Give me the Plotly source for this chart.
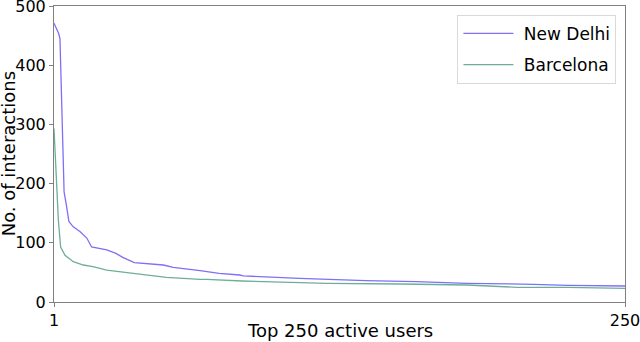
import plotly.graph_objects as go

# user rank (1 = most active) and number of interactions
delhi_rank = [1, 3, 3.6, 4.4, 4.8, 5.4, 6.5, 7.5, 9.4, 12.3, 15.3, 17.4, 24, 28, 31, 36,
              48.7, 53, 64.7, 73, 82, 83.5, 108, 137, 159, 181, 210, 225, 250]
delhi_vals = [471, 454, 445, 313, 251, 186, 161, 136, 127, 119, 108, 93, 88, 82, 75.5, 66.4,
              62.5, 58.6, 53, 48.4, 45.6, 44, 40, 36, 34.3, 31.6, 29.9, 28.2, 27]

barca_rank = [1, 1.9, 2.9, 3.9, 5.8, 9.4, 13.8, 18, 24, 35.6, 50, 64.7, 67.6, 83, 120,
              152, 181, 203, 225, 250]
barca_vals = [293, 217, 138, 93, 79, 68, 62.5, 59.6, 54, 48.4, 41.7, 38.3, 38.3, 35.5, 31.6,
              30.4, 28.7, 24.8, 24.8, 23]

fig = go.Figure()
fig.add_trace(go.Scatter(x=delhi_rank, y=delhi_vals, mode="lines", name="\u00a0New Delhi",
                         legendgroup="a", line=dict(color="#7f6ff7", width=1.3)))
fig.add_trace(go.Scatter(x=barca_rank, y=barca_vals, mode="lines", name="\u00a0Barcelona",
                         legendgroup="b", line=dict(color="#6fae96", width=1.3)))

axis_common = dict(showline=True, linecolor="#808080", linewidth=1, mirror=True,
                   ticks="outside", ticklen=4, tickcolor="#808080", showgrid=False,
                   zeroline=False, automargin=False, ticklabeloverflow="allow",
                   tickfont=dict(size=16, color="black"))

fig.update_layout(
    width=640, height=342,
    margin=dict(l=54, r=15, t=6, b=40),
    plot_bgcolor="white", paper_bgcolor="white",
    font=dict(family="DejaVu Sans", color="black"),
    xaxis=dict(range=[1, 250], tickvals=[1, 250], ticktext=["1", "250"], **axis_common),
    yaxis=dict(range=[0, 500], tickvals=[0, 100, 200, 300, 400, 500], **axis_common),
    legend=dict(x=0.985, y=0.97, xanchor="right", yanchor="top",
                bordercolor="#d9d9d9", borderwidth=1, bgcolor="white",
                font=dict(size=17), tracegroupgap=6, itemwidth=50),
    showlegend=True,
)

# axis titles as annotations so they sit where the reference has them
fig.add_annotation(text="Top 250 active users", xref="paper", yref="paper",
                   x=0.5, y=-0.095, xanchor="center", yanchor="middle",
                   showarrow=False, font=dict(size=18))
fig.add_annotation(text="No. of interactions", xref="paper", yref="paper",
                   x=-0.08, y=0.5, xanchor="center", yanchor="middle", textangle=-90,
                   showarrow=False, font=dict(size=18))

fig.write_html("out.html", config={"displayModeBar": False},
               post_script="document.body.style.margin='0';")
